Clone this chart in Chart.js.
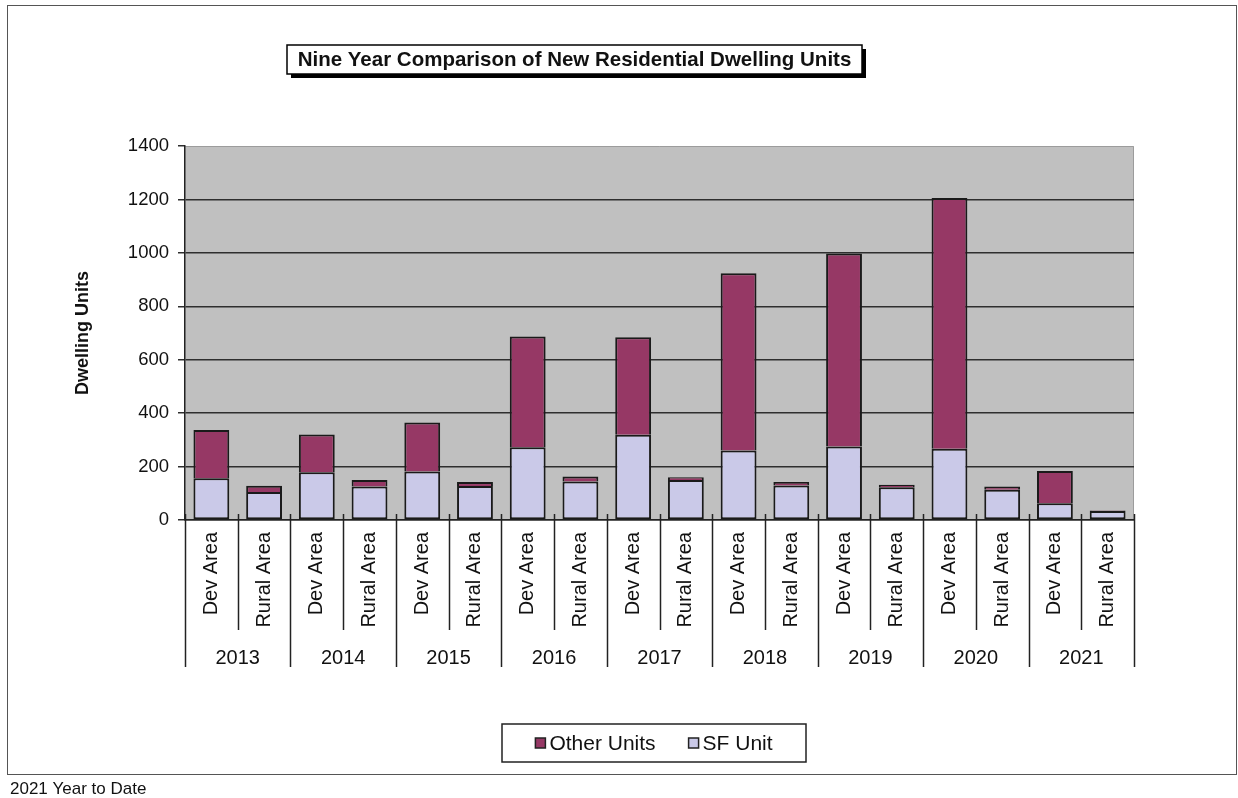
<!DOCTYPE html>
<html lang="en">
<head>
<meta charset="UTF-8">
<title>Nine Year Comparison of New Residential Dwelling Units</title>
<script src="https://cdn.jsdelivr.net/npm/chart.js"></script>
<style>
  body { margin: 0; background: #ffffff; }
  .wrap { position: relative; width: 1238px; height: 798px; }
</style>
</head>
<body>
<div class="wrap"><canvas id="dwellingChart" width="1238" height="798"></canvas></div>
<script>
// chart data
const years = ["2013", "2014", "2015", "2016", "2017", "2018", "2019", "2020", "2021"];
const areas = ["Dev Area", "Rural Area", "Dev Area", "Rural Area", "Dev Area", "Rural Area",
               "Dev Area", "Rural Area", "Dev Area", "Rural Area", "Dev Area", "Rural Area",
               "Dev Area", "Rural Area", "Dev Area", "Rural Area", "Dev Area", "Rural Area"];
const sfUnits    = [156, 105, 179, 125, 182, 127, 272, 144, 319, 150, 260, 129, 275, 123, 267, 113, 63, 34];
const otherUnits = [181, 23, 141, 25, 183, 15, 415, 19, 365, 10, 664, 13, 723, 9, 938, 12, 120, 2];
const yMax = 1400;
const yStep = 200;

const FONT = "'Liberation Sans', Arial, sans-serif";
const TEXT = '#111111';
Chart.defaults.font.family = FONT;
Chart.defaults.color = TEXT;

const drawExtras = {
  id: 'drawExtras',
  beforeDraw(chart) {
    const ctx = chart.ctx;
    const a = chart.chartArea;
    ctx.save();
    ctx.fillStyle = '#ffffff';
    ctx.fillRect(0, 0, chart.width, chart.height);
    ctx.fillStyle = '#c0c0c0';
    ctx.fillRect(a.left, a.top, a.right - a.left, a.bottom - a.top);
    // light plot frame top / right
    ctx.strokeStyle = '#9c9c9c';
    ctx.lineWidth = 1;
    ctx.beginPath();
    ctx.moveTo(a.left, a.top + 0.5);
    ctx.lineTo(a.right - 0.5, a.top + 0.5);
    ctx.lineTo(a.right - 0.5, a.bottom);
    ctx.stroke();
    ctx.restore();
  },
  afterDraw(chart) {
    const ctx = chart.ctx;
    const a = chart.chartArea;
    const xs = chart.scales.x;
    const n = areas.length;
    const w = (xs.right - xs.left) / n;
    ctx.save();

    // separators under the category axis
    ctx.strokeStyle = '#222222';
    ctx.lineWidth = 1.5;
    for (let i = 0; i <= n; i++) {
      const x = Math.round(xs.left + i * w) + 0.5;
      const yEnd = (i % 2 === 0) ? a.bottom + 147 : a.bottom + 110;
      ctx.beginPath();
      ctx.moveTo(x, a.bottom - 6);
      ctx.lineTo(x, yEnd);
      ctx.stroke();
    }

    // year labels
    ctx.fillStyle = TEXT;
    ctx.font = '20px ' + FONT;
    ctx.textAlign = 'center';
    ctx.textBaseline = 'middle';
    years.forEach((y, k) => {
      ctx.fillText(y, xs.left + (2 * k + 1) * w, a.bottom + 138);
    });

    // title box with shadow
    const tx = 287, ty = 45, tw = 575, th = 29;
    ctx.fillStyle = '#000000';
    ctx.fillRect(tx + 4, ty + 4, tw, th);
    ctx.fillStyle = '#ffffff';
    ctx.fillRect(tx, ty, tw, th);
    ctx.strokeStyle = '#000000';
    ctx.lineWidth = 1.5;
    ctx.strokeRect(tx, ty, tw, th);
    ctx.fillStyle = TEXT;
    ctx.font = 'bold 20.5px ' + FONT;
    ctx.fillText('Nine Year Comparison of New Residential Dwelling Units', tx + tw / 2, ty + th / 2 + 1);

    // legend box
    const lx = 502, ly = 724, lw = 304, lh = 38;
    ctx.strokeStyle = '#222222';
    ctx.lineWidth = 1.5;
    ctx.strokeRect(lx, ly, lw, lh);
    ctx.font = '21px ' + FONT;
    ctx.textAlign = 'left';
    const items = chart.data.datasets.slice().reverse();
    const sq = 10, gap = 4, spacing = 33;
    const widths = items.map(d => sq + gap + ctx.measureText(d.label).width);
    const total = widths.reduce((s, v) => s + v, 0) + spacing * (items.length - 1);
    let cx = lx + (lw - total) / 2;
    const cy = ly + lh / 2;
    items.forEach((d, i) => {
      ctx.fillStyle = d.backgroundColor;
      ctx.fillRect(cx, cy - sq / 2, sq, sq);
      ctx.strokeStyle = '#222222';
      ctx.lineWidth = 1.5;
      ctx.strokeRect(cx, cy - sq / 2, sq, sq);
      ctx.fillStyle = TEXT;
      ctx.fillText(d.label, cx + sq + gap, cy + 1);
      cx += widths[i] + spacing;
    });

    // outer frame and footnote
    ctx.strokeStyle = '#555555';
    ctx.lineWidth = 1;
    ctx.strokeRect(7.5, 5.5, 1229, 769);
    ctx.fillStyle = TEXT;
    ctx.font = '17px ' + FONT;
    ctx.fillText('2021 Year to Date', 10, 789);
    ctx.restore();
  }
};

const ctx = document.getElementById('dwellingChart').getContext('2d');
const dwellingChart = new Chart(ctx, {
  type: 'bar',
  data: {
    labels: areas,
    datasets: [
      {
        label: 'SF Unit',
        data: sfUnits,
        backgroundColor: '#cac9e8',
        borderColor: '#1a1a1a',
        borderWidth: 2,
        borderSkipped: false,
        barPercentage: 0.68,
        categoryPercentage: 1.0
      },
      {
        label: 'Other Units',
        data: otherUnits,
        backgroundColor: '#963865',
        borderColor: '#1a1a1a',
        borderWidth: 2,
        borderSkipped: 'start',
        barPercentage: 0.68,
        categoryPercentage: 1.0
      }
    ]
  },
  options: {
    responsive: false,
    animation: false,
    layout: { padding: { left: 68, top: 146, right: 104, bottom: 0 } },
    plugins: {
      legend: { display: false },
      title: { display: false },
      tooltip: { enabled: false }
    },
    scales: {
      x: {
        stacked: true,
        offset: true,
        grid: { display: false, drawTicks: false },
        border: { display: true, color: '#222222', width: 1.5 },
        ticks: {
          autoSkip: false,
          minRotation: 90,
          maxRotation: 90,
          padding: 12,
          color: TEXT,
          font: { size: 20 }
        },
        afterFit(scale) { scale.height = 278; }
      },
      y: {
        stacked: true,
        min: 0,
        max: yMax,
        ticks: {
          stepSize: yStep,
          padding: 9,
          color: TEXT,
          font: { size: 18.5 },
          callback: v => String(v)
        },
        grid: {
          color: c => (c.tick && c.tick.value === yMax) ? 'rgba(0,0,0,0)' : '#2e2e2e',
          tickColor: '#2e2e2e',
          lineWidth: 1.5,
          tickLength: 7
        },
        border: { display: true, color: '#222222', width: 1.5 },
        title: {
          display: true,
          text: 'Dwelling Units',
          color: TEXT,
          font: { size: 18, weight: 'bold' }
        },
        afterFit(scale) { scale.width = 117; }
      }
    }
  },
  plugins: [drawExtras]
});
</script>
</body>
</html>
